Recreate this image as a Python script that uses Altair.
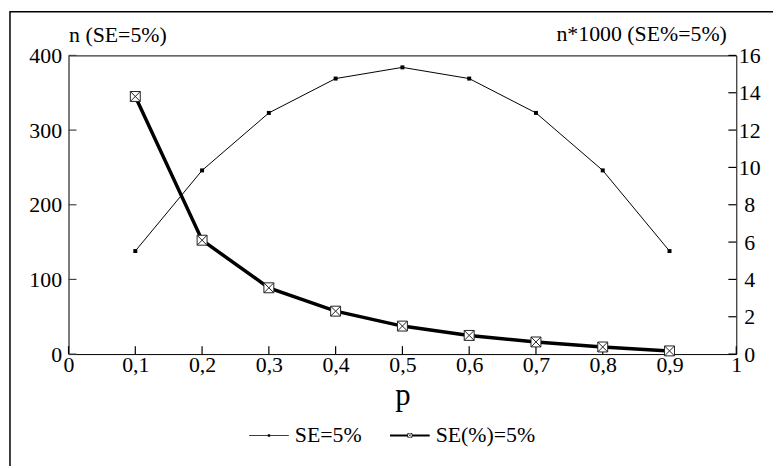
import altair as alt
import pandas as pd

# ---- data ----
p_values = [0.1, 0.2, 0.3, 0.4, 0.5, 0.6, 0.7, 0.8, 0.9]
n_se5 = [138, 246, 323, 369, 384, 369, 323, 246, 138]          # left axis
n1000_serel5 = [13.8, 6.1, 3.55, 2.3, 1.5, 1.0, 0.65, 0.38, 0.17]  # right axis
series_names = ["SE=5%", "SE(%)=5%"]
x_ticks = [0, 0.1, 0.2, 0.3, 0.4, 0.5, 0.6, 0.7, 0.8, 0.9, 1]
left_ticks = [0, 100, 200, 300, 400]
right_ticks = [0, 2, 4, 6, 8, 10, 12, 14, 16]

df1 = pd.DataFrame({"p": p_values, "v": n_se5, "series": series_names[0]})
df2 = pd.DataFrame({"p": p_values, "v": n1000_serel5, "series": series_names[1]})

FONT = "Liberation Serif"
FS = 22
W, H, TICK = 673, 301, 8

xenc = alt.X(
    "p:Q",
    scale=alt.Scale(domain=[0, 1], nice=False, zero=False),
    axis=alt.Axis(
        values=x_ticks, title="p", labelExpr="replace(format(datum.value, '.1~f'), '.', ',')",
        ticks=False, labelPadding=1, labelFlush=False, domain=False, grid=False,
        titleFontSize=31, titleFontWeight="normal",
        titleY=51, titleBaseline="alphabetic",
    ),
)

yleft = alt.Y(
    "v:Q",
    scale=alt.Scale(domain=[0, 400], nice=False),
    axis=alt.Axis(
        values=left_ticks, title="n (SE=5%)", orient="left",
        ticks=False, labelPadding=7, domain=True, domainColor="#777", grid=False,
        titleAngle=0, titleAlign="left", titleX=0, titleY=-14,
        titleBaseline="alphabetic", titleFontWeight="normal", titleFontSize=FS,
    ),
)

yright = alt.Y(
    "v:Q",
    scale=alt.Scale(domain=[0, 16], nice=False),
    axis=alt.Axis(
        values=right_ticks, title="n*1000 (SE%=5%)", orient="right",
        ticks=False, labelPadding=13, labelAlign="center", domain=False, grid=False,
        titleAngle=0, titleAlign="right", titleX=-10, titleY=-15,
        titleBaseline="alphabetic", titleFontWeight="normal", titleFontSize=FS,
    ),
)

# inward tick marks drawn as short filled bars, placed along each axis by its scale
vtick = "M-0.15,-1H0.15V1H-0.15Z"
htick = "M-1,-0.15H1V0.15H-1Z"
xtick_marks = alt.Chart(pd.DataFrame({"p": x_ticks})).mark_point(
    shape=vtick, size=TICK * TICK, color="black", filled=True, opacity=1
).encode(x=xenc, y=alt.value(H - TICK / 2))
ltick_marks = alt.Chart(pd.DataFrame({"v": left_ticks})).mark_point(
    shape=htick, size=TICK * TICK, color="#444", filled=True, opacity=1
).encode(y=yleft, x=alt.value(TICK / 2))
rtick_marks = alt.Chart(pd.DataFrame({"v": right_ticks})).mark_point(
    shape=htick, size=TICK * TICK, color="black", filled=True, opacity=1
).encode(y=yright, x=alt.value(W - TICK / 2))

line1 = alt.Chart(df1).mark_line(color="black", strokeWidth=1).encode(x=xenc, y=yleft)
pts1 = alt.Chart(df1).mark_square(size=16, color="black", filled=True, opacity=1).encode(x=xenc, y=yleft)

legend_paths = [
    "M-1,-0.018H1V0.018H-1Z M-0.06,-0.06H0.06V0.06H-0.06Z",
    "M-1,-0.05H-0.12V0.05H-1Z M0.12,-0.05H1V0.05H0.12Z "
    "M-0.12,-0.12H0.12V0.12H-0.12Z M-0.095,-0.095V0.095H0.095V-0.095Z "
    "M-0.095,-0.08L0.08,0.095L0.095,0.095L0.095,0.08L-0.08,-0.095L-0.095,-0.095Z "
    "M0.095,-0.08L-0.08,0.095L-0.095,0.095L-0.095,0.08L0.08,-0.095L0.095,-0.095Z",
]
legend_layer = (
    alt.Chart(pd.concat([df1, df2]))
    .transform_filter("datum.p > 5")
    .mark_point(filled=True, color="black", strokeWidth=0, opacity=1)
    .encode(
        x=xenc,
        y=yleft,
        shape=alt.Shape(
            "series:N",
            scale=alt.Scale(domain=series_names, range=legend_paths),
            legend=alt.Legend(
                title=None, orient="none", direction="horizontal", legendX=182, legendY=363,
                symbolSize=1600, labelFontSize=FS, labelFont=FONT, labelOffset=6,
                columnPadding=28, padding=0, symbolFillColor="black", symbolStrokeWidth=0,
                labelColor="black",
            ),
        ),
    )
)

left_layer = alt.layer(xtick_marks, ltick_marks, line1, pts1, legend_layer)

box_path = "M-1,-1H1V1H-1Z M-1,-1L1,1 M1,-1L-1,1"
line2 = alt.Chart(df2).mark_line(color="black", strokeWidth=3.5).encode(x=xenc, y=yright)
pts2 = alt.Chart(df2).mark_point(
    shape=box_path, size=100, filled=True, fill="white", stroke="#222", strokeWidth=1, opacity=1
).encode(x=xenc, y=yright)
right_layer = alt.layer(rtick_marks, line2, pts2)

frame = alt.Chart(pd.DataFrame({"a": [0]})).mark_rect(
    filled=False, stroke="black", strokeWidth=1.5, clip=False
).encode(x=alt.value(-59), x2=alt.value(760), y=alt.value(-44), y2=alt.value(460))

chart = (
    alt.layer(frame, left_layer, right_layer)
    .resolve_scale(y="independent")
    .properties(
        width=W, height=H,
        autosize=alt.AutoSizeParams(type="none"),
        padding={"left": 61, "top": 46, "right": 37, "bottom": 111},
    )
    .configure_view(stroke="black", strokeWidth=1)
    .configure_axis(labelFont=FONT, titleFont=FONT, labelFontSize=FS, labelColor="black",
                    titleColor="black")
    .configure_legend(labelFont=FONT)
)

chart.save("out.html", embed_options={"renderer": "svg", "actions": False})
